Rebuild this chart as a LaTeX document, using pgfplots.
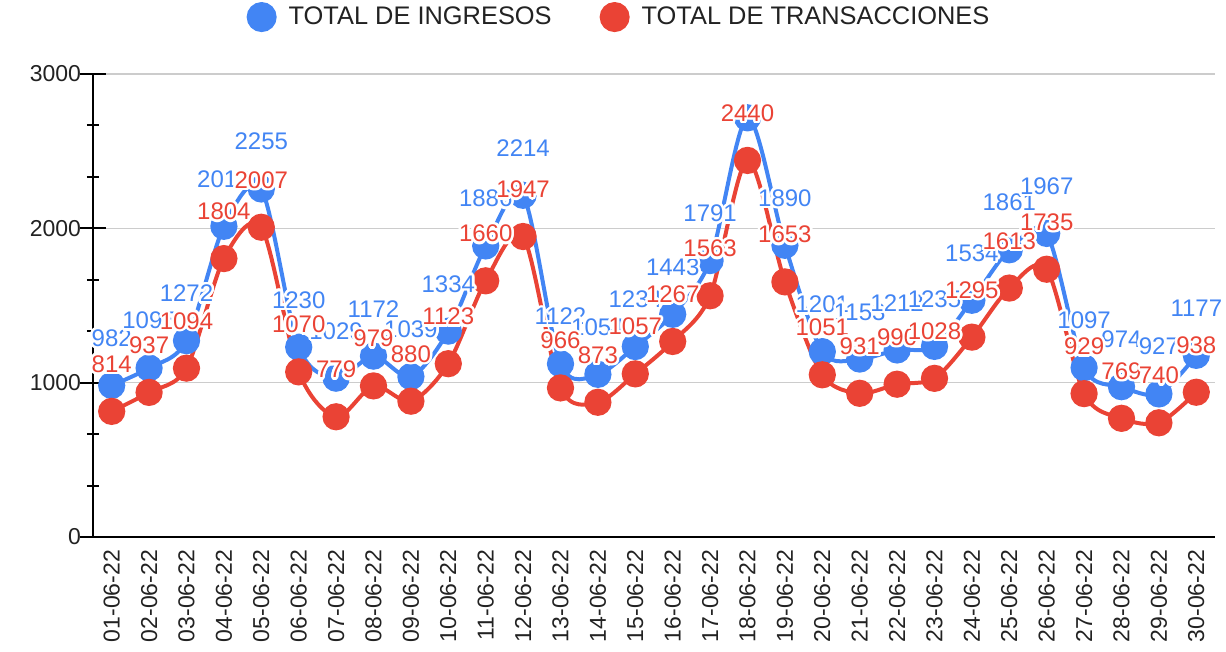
\documentclass[border=0pt]{standalone}
\usepackage{fontspec}
\setmainfont{Liberation Sans}
\usepackage{pgfplots}
\pgfplotsset{compat=1.18}
\usepackage{pgfplotstable}
\usepackage{contour}
\contourlength{1.3pt}
\definecolor{gblue}{HTML}{4285F4}
\definecolor{gred}{HTML}{EA4335}
\definecolor{ggrid}{HTML}{CCCCCC}
\definecolor{gtext}{HTML}{222222}

\pgfplotstableread{
x val lab
0 982 982
1 1095 1095
2 1272 1272
3 2013 2013
4 2255 2255
5 1230 1230
6 1029 1029
7 1172 1172
8 1039 1039
9 1334 1334
10 1886 1886
11 2214 2214
12 1122 1122
13 1054 1054
14 1234 1234
15 1443 1443
16 1791 1791
17 2716 {}
18 1890 1890
19 1201 1201
20 1153 1153
21 1212 1212
22 1235 1235
23 1534 1534
24 1861 1861
25 1967 1967
26 1097 1097
27 974 974
28 927 927
29 1177 1177
}\ingresos

\pgfplotstableread{
x val lab
0 814 814
1 937 937
2 1094 1094
3 1804 1804
4 2007 2007
5 1070 1070
6 779 779
7 979 979
8 880 880
9 1123 1123
10 1660 1660
11 1947 1947
12 966 966
13 873 873
14 1057 1057
15 1267 1267
16 1563 1563
17 2440 2440
18 1653 1653
19 1051 1051
20 931 931
21 990 990
22 1028 1028
23 1295 1295
24 1613 1613
25 1735 1735
26 929 929
27 769 769
28 740 740
29 938 938
}\transacciones

\begin{document}
\begin{tikzpicture}
\useasboundingbox (-46.5pt,-57.5pt) rectangle (566.5pt,268.5pt);
\begin{axis}[
  at={(0,0)}, anchor=south west,
  scale only axis,
  width=561pt, height=231.5pt,
  xmin=-0.5, xmax=29.5,
  ymin=0, ymax=3000,
  axis x line*=bottom, axis y line*=left,
  axis line style={line width=1pt, black, -},
  xtick={0,...,29},
  xticklabels={01-06-22,02-06-22,03-06-22,04-06-22,05-06-22,06-06-22,07-06-22,08-06-22,09-06-22,10-06-22,11-06-22,12-06-22,13-06-22,14-06-22,15-06-22,16-06-22,17-06-22,18-06-22,19-06-22,20-06-22,21-06-22,22-06-22,23-06-22,24-06-22,25-06-22,26-06-22,27-06-22,28-06-22,29-06-22,30-06-22},
  xticklabel style={rotate=90, anchor=east, font=\fontsize{11.5}{12}\selectfont, text=gtext},
  xticklabel shift=-3.5pt,
  x tick style={draw=none},
  ytick={0,1000,2000,3000},
  minor y tick num=2,
  y tick style={line width=1pt, black},
  tick align=center,
  major tick length=13pt,
  minor tick length=6pt,
  yticklabel style={font=\fontsize{11.5}{12}\selectfont, text=gtext, xshift=4pt},
  ymajorgrids,
  major grid style={ggrid, line width=0.6pt},
  /pgf/number format/1000 sep={},
  /pgf/number format/assume math mode=true,
  clip=false,
  legend columns=2,
  legend style={draw=none, fill=none, at={(0.4697,1.123)}, anchor=center,
    font=\fontsize{12.7}{14}\selectfont, text=gtext,
    /tikz/every even column/.append style={column sep=22pt}},
  legend image code/.code={\fill (0pt,0pt) circle (6.5pt); \path (10.5pt,0pt);},
]
\addplot[gblue, line width=2pt, smooth, tension=0.5, mark=*, mark size=5.8pt,
  mark options={solid, fill=gblue, draw=gblue}] table[x=x,y=val] {\ingresos};
\addlegendentry{TOTAL DE INGRESOS}
\addplot[gred, line width=2pt, smooth, tension=0.5, mark=*, mark size=5.8pt,
  mark options={solid, fill=gred, draw=gred}] table[x=x,y=val] {\transacciones};
\addlegendentry{TOTAL DE TRANSACCIONES}

\addplot[draw=none, mark=none, forget plot,
  point meta=explicit symbolic,
  nodes near coords={\contour{white}{\textcolor{gblue}{\pgfplotspointmeta}}},
  every node near coord/.append style={anchor=center, yshift=23pt, inner sep=0pt,
    font=\fontsize{12}{12}\selectfont}] table[x=x,y=val,meta=lab] {\ingresos};
\addplot[draw=none, mark=none, forget plot,
  point meta=explicit symbolic,
  nodes near coords={\contour{white}{\textcolor{gred}{\pgfplotspointmeta}}},
  every node near coord/.append style={anchor=center, yshift=23pt, inner sep=0pt,
    font=\fontsize{12}{12}\selectfont}] table[x=x,y=val,meta=lab] {\transacciones};
\end{axis}
\end{tikzpicture}
\end{document}
